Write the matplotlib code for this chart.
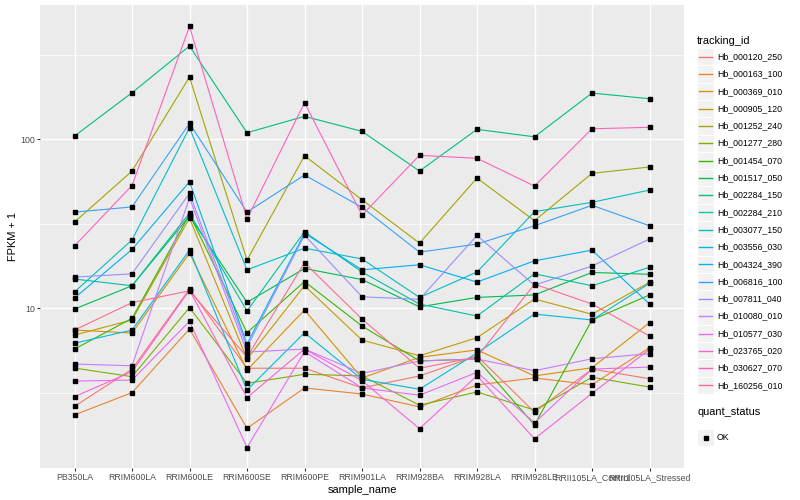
import matplotlib.pyplot as plt
from matplotlib.patches import Rectangle
from matplotlib.lines import Line2D

plt.rcParams['font.family'] = ['Liberation Sans', 'DejaVu Sans']

# muestras (eje x)
samples = ['PB350LA', 'RRIM600LA', 'RRIM600LE', 'RRIM600SE', 'RRIM600PE', 'RRIM901LA',
           'RRIM928BA', 'RRIM928LA', 'RRIM928LE', 'RRII105LA_Control', 'RRII105LA_Stressed']

# FPKM + 1 por gen
hb_000120_250 = [2.63, 4.36, 13.0, 4.42, 4.42, 3.38, 3.98, 5.22, 2.43, 4.37, 3.83]
hb_000163_100 = [2.34, 3.17, 7.54, 1.95, 3.38, 3.11, 2.61, 3.52, 3.87, 3.53, 5.85]
hb_000369_010 = [7.44, 7.14, 21.2, 4.31, 9.77, 3.87, 5.13, 5.67, 3.98, 4.45, 8.22]
hb_000905_120 = [6.95, 8.53, 34.2, 5.01, 13.6, 6.49, 5.24, 6.70, 11.35, 9.22, 14.25]
hb_001252_240 = [32.4, 64.9, 233.7, 19.3, 80.0, 43.9, 24.3, 59.0, 33.0, 62.9, 68.6]
hb_001277_280 = [4.43, 3.94, 10.1, 3.60, 4.07, 3.98, 2.67, 3.20, 2.50, 3.91, 3.42]
hb_001454_070 = [5.74, 8.72, 35.9, 7.17, 14.4, 7.86, 4.88, 5.01, 2.04, 8.53, 12.0]
hb_001517_050 = [9.9, 13.6, 35.2, 10.85, 17.2, 14.8, 10.2, 11.6, 12.0, 16.3, 15.9]
hb_002284_150 = [104.6, 188.7, 356.5, 109.4, 136.8, 111.5, 64.9, 114.6, 103.5, 187.9, 173.9]
hb_002284_210 = [14.9, 13.6, 36.6, 9.64, 28.4, 16.4, 10.6, 9.0, 16.0, 13.6, 17.5]
hb_003077_150 = [12.5, 25.4, 117.1, 16.9, 22.7, 19.6, 11.6, 16.4, 37.3, 42.4, 50.1]
hb_003556_030 = [6.21, 7.44, 22.1, 3.28, 7.17, 3.80, 3.32, 5.44, 9.25, 8.53, 14.06]
hb_004324_390 = [11.5, 22.3, 56.1, 6.15, 27.8, 16.9, 18.1, 14.3, 19.1, 22.1, 10.6]
hb_006816_100 = [37.1, 39.8, 124.3, 37.1, 61.5, 39.6, 21.5, 24.0, 30.8, 40.7, 30.8]
hb_007811_040 = [15.3, 16.0, 47.9, 5.90, 27.1, 11.7, 11.3, 27.0, 13.7, 17.8, 25.7]
hb_010080_010 = [4.68, 4.57, 44.9, 5.51, 5.74, 4.12, 4.88, 5.01, 4.27, 5.03, 5.39]
hb_010577_030 = [3.71, 3.76, 8.38, 1.50, 5.54, 3.38, 3.06, 4.18, 2.10, 4.37, 4.49]
hb_023765_020 = [3.00, 4.22, 12.8, 2.96, 5.74, 3.73, 1.94, 3.99, 1.69, 3.14, 5.72]
hb_030627_070 = [23.4, 53.3, 466.0, 33.8, 164.7, 35.6, 80.4, 77.2, 52.9, 115.5, 117.8]
hb_160256_010 = [7.44, 10.8, 12.7, 5.15, 18.6, 8.64, 4.42, 5.15, 13.9, 10.6, 6.86]

tracking_ids = ['Hb_000120_250', 'Hb_000163_100', 'Hb_000369_010', 'Hb_000905_120',
                'Hb_001252_240', 'Hb_001277_280', 'Hb_001454_070', 'Hb_001517_050',
                'Hb_002284_150', 'Hb_002284_210', 'Hb_003077_150', 'Hb_003556_030',
                'Hb_004324_390', 'Hb_006816_100', 'Hb_007811_040', 'Hb_010080_010',
                'Hb_010577_030', 'Hb_023765_020', 'Hb_030627_070', 'Hb_160256_010']
series = [hb_000120_250, hb_000163_100, hb_000369_010, hb_000905_120, hb_001252_240,
          hb_001277_280, hb_001454_070, hb_001517_050, hb_002284_150, hb_002284_210,
          hb_003077_150, hb_003556_030, hb_004324_390, hb_006816_100, hb_007811_040,
          hb_010080_010, hb_010577_030, hb_023765_020, hb_030627_070, hb_160256_010]

# paleta hue de ggplot para 20 niveles
colors = ['#F8766D', '#EA8331', '#D89000', '#C09B00', '#A3A500', '#7CAE00', '#39B600',
          '#00BB4E', '#00BF7D', '#00C1A3', '#00BFC4', '#00BAE0', '#00B0F6', '#35A2FF',
          '#9590FF', '#C77CFF', '#E76BF3', '#FA62DB', '#FF62BC', '#FF6C91']

W, H = 800, 500
fig = plt.figure(figsize=(8, 5), dpi=100)
ax = fig.add_axes([40 / W, 32 / H, 644 / W, 463 / H])
ax.set_facecolor('#EBEBEB')

x = list(range(len(samples)))
for vals, col in zip(series, colors):
    ax.plot(x, vals, color=col, lw=0.8, zorder=3)
for vals in series:
    ax.plot(x, vals, 's', color='black', ms=2.7, zorder=4)

ax.set_yscale('log')
ax.set_ylim(10 ** 0.055, 10 ** 2.795)
ax.set_xlim(-0.6, 10.6)
ax.set_yticks([10, 100])
ax.set_yticklabels(['10', '100'])
ax.set_yticks([10 ** 0.5, 10 ** 1.5, 10 ** 2.5], minor=True)
ax.set_yticklabels([], minor=True)
ax.set_xticks(x)
ax.set_xticklabels(samples)
ax.tick_params(axis='both', which='major', length=2, width=0.8, color='#333333',
               labelcolor='#4D4D4D', labelsize=6.3, pad=1.5)
ax.tick_params(axis='y', which='minor', length=0)
ax.grid(True, which='major', color='white', lw=1.0, zorder=1)
ax.grid(True, which='minor', axis='y', color='white', lw=0.5, zorder=1)
ax.set_axisbelow(True)
for s in ax.spines.values():
    s.set_visible(False)

ax.set_xlabel('sample_name', fontsize=7.9, labelpad=2)
ax.set_ylabel('FPKM + 1', fontsize=7.9, labelpad=2)

# leyenda hecha a mano
def fx(px):
    return px / W

def fy(py):
    return 1 - py / H

fig.text(fx(697), fy(40.5), 'tracking_id', fontsize=7.9, va='center', ha='left')
step = 17.3
for i, (name, col) in enumerate(zip(tracking_ids, colors)):
    cy = 56.7 + i * step
    fig.patches.append(Rectangle((fx(697), fy(cy + step / 2)), 17 / W, step / H,
                                 transform=fig.transFigure, facecolor='#F2F2F2',
                                 edgecolor='white', lw=0.7, zorder=1))
    fig.lines.append(Line2D([fx(699), fx(712)], [fy(cy), fy(cy)], color=col, lw=1.0,
                            transform=fig.transFigure, zorder=3))
    fig.text(fx(717), fy(cy), name, fontsize=6.3, va='center', ha='left')

fig.text(fx(697), fy(412.3), 'quant_status', fontsize=7.9, va='center', ha='left')
fig.patches.append(Rectangle((fx(697), fy(437.7 + step / 2)), 17 / W, step / H,
                             transform=fig.transFigure, facecolor='#F2F2F2',
                             edgecolor='white', lw=0.7, zorder=1))
fig.lines.append(Line2D([fx(705.5)], [fy(437.7)], marker='s', color='black', ms=2.7,
                        transform=fig.transFigure, zorder=3))
fig.text(fx(717), fy(437.7), 'OK', fontsize=6.3, va='center', ha='left')

fig.savefig('out.png', dpi=100)
